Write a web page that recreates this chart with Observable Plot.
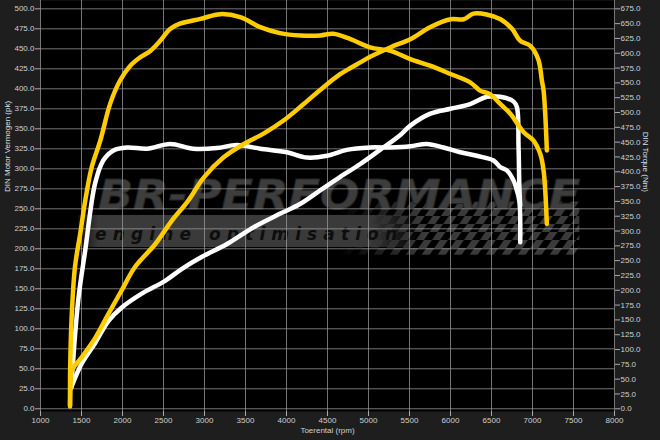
<!DOCTYPE html>
<html><head><meta charset="utf-8">
<script src="https://cdn.jsdelivr.net/npm/d3@7"></script>
<script src="https://cdn.jsdelivr.net/npm/@observablehq/plot@0.6"></script>
<style>
html,body{margin:0;padding:0;background:#1e1e1e;}
#chart{width:660px;height:440px;}
</style></head><body><div id="chart"></div>
<script>
// ---- tick labels / axes ----
const rpmTicks = d3.range(1000, 8001, 500);
const pkTicks = d3.range(0, 501, 25);
const nmTicks = d3.range(0, 676, 25);
const nmPerPk = 675 / 500; // right axis 675 Nm aligns with left 500 pk

const xTitle = "Toerental (rpm)";
const yLeftTitle = "DIN Motor Vermogen (pk)";
const yRightTitle = "DIN Torque (Nm)";

// ---- tuned power (pk), yellow ----
const tunedPowerRpm = [1360,1370,1380,1500,1670,1830,1990,2150,2400,2600,2800,2990,3230,3480,3720,3960,4210,4450,4650,4780,4900,5020,5270,5510,5750,6000,6160,6280,6440,6610,6750,6850,6970,7070,7115,7135,7155,7175];
const tunedPowerPk  = [4,38,48,64,89,119,148,177,206,235,260,289,314,331,344,360,381,402,418,426,433,440,452,462,477,487,487,494,493,487,475,460,454,437,410,398,369,323];

// ---- tuned torque (Nm), yellow ----
const tunedTorqueRpm = [1360,1362,1380,1420,1485,1545,1625,1730,1850,1970,2095,2215,2340,2460,2580,2700,2950,3190,3435,3680,3920,4170,4410,4570,4780,5020,5270,5510,5750,6000,6240,6360,6480,6610,6730,6890,7010,7095,7135,7155,7175];
const tunedTorqueNm  = [4,70,155,239,296,351,408,453,515,554,579,593,604,621,641,650,658,666,661,644,634,630,630,633,624,610,604,590,579,565,551,537,531,514,498,467,453,430,402,369,312];

// ---- stock power (pk), white ----
const stockPowerRpm = [1380,1505,1665,1830,1995,2235,2520,2725,2970,3275,3600,3925,4165,4410,4655,4900,5145,5385,5510,5755,6000,6240,6445,6605,6770,6810,6830,6840,6850];
const stockPowerPk  = [28,57,82,110,127,144,160,175,190,206,227,244,256,273,290,306,324,342,354,369,375,381,390,390,384,377,327,277,254];

// ---- stock torque (Nm), white ----
const stockTorqueRpm = [1375,1460,1545,1665,1765,1890,2055,2300,2580,2865,3150,3395,3680,4005,4250,4495,4735,5020,5265,5510,5710,5915,6120,6320,6525,6605,6690,6770,6810,6840,6850];
const stockTorqueNm  = [35,183,267,380,419,436,441,439,447,439,440,445,439,433,424,427,437,441,441,443,447,441,433,427,419,408,402,385,368,351,281];

const yellow = "#ffcc00";
const white = "#ffffff";

function series(name, rpm, vals, toLeft) {
  return rpm.map((r, i) => ({series: name, rpm: r, v: toLeft(vals[i])}));
}
const idPk = v => v;
const nmToPk = v => v / nmPerPk;

const lineData = [
  ...series("stockTorque", stockTorqueRpm, stockTorqueNm, nmToPk),
  ...series("stockPower", stockPowerRpm, stockPowerPk, idPk),
  ...series("tunedTorque", tunedTorqueRpm, tunedTorqueNm, nmToPk),
  ...series("tunedPower", tunedPowerRpm, tunedPowerPk, idPk)
];
const colorOf = {stockTorque: white, stockPower: white, tunedTorque: yellow, tunedPower: yellow};

// decorative watermark (logo) behind the curves
function watermark(index, scales, values, dims) {
  const L = dims.marginLeft, T = dims.marginTop;
  const W = dims.width - dims.marginLeft - dims.marginRight;
  const H = dims.height - dims.marginTop - dims.marginBottom;
  const px = f => L + f * W, py = f => T + f * H;
  const g = d3.create("svg:g").attr("text-anchor", "start");
  const defs = g.append("defs");
  const pat = defs.append("pattern").attr("id", "chk").attr("patternUnits", "userSpaceOnUse")
    .attr("width", 16).attr("height", 16).attr("patternTransform", "skewX(-35)");
  pat.append("rect").attr("width", 8).attr("height", 8).attr("fill", "#3a3a3a");
  pat.append("rect").attr("x", 8).attr("y", 8).attr("width", 8).attr("height", 8).attr("fill", "#3a3a3a");
  const fade = defs.append("linearGradient").attr("id", "fadeL");
  fade.append("stop").attr("offset", "0").attr("stop-color", "#fff").attr("stop-opacity", 0);
  fade.append("stop").attr("offset", "0.35").attr("stop-color", "#fff").attr("stop-opacity", 1);
  fade.append("stop").attr("offset", "1").attr("stop-color", "#fff").attr("stop-opacity", 1);
  const mask = defs.append("mask").attr("id", "chkMask");
  mask.append("rect").attr("x", px(0.52)).attr("y", py(0.49)).attr("width", px(0.94) - px(0.52)).attr("height", py(0.62) - py(0.49)).attr("fill", "url(#fadeL)");
  const band = defs.append("linearGradient").attr("id", "bandG");
  band.append("stop").attr("offset", "0").attr("stop-color", "#3a3a3a").attr("stop-opacity", 0.2);
  band.append("stop").attr("offset", "0.06").attr("stop-color", "#3a3a3a").attr("stop-opacity", 1);
  band.append("stop").attr("offset", "0.85").attr("stop-color", "#3a3a3a").attr("stop-opacity", 1);
  band.append("stop").attr("offset", "1").attr("stop-color", "#3a3a3a").attr("stop-opacity", 0);
  g.append("rect").attr("x", px(0.52)).attr("y", py(0.49)).attr("width", px(0.94) - px(0.52)).attr("height", py(0.62) - py(0.49))
    .attr("fill", "url(#chk)").attr("mask", "url(#chkMask)");
  g.append("rect").attr("x", px(0.066)).attr("y", py(0.523)).attr("width", px(0.662) - px(0.066)).attr("height", py(0.601) - py(0.523))
    .attr("fill", "url(#bandG)");
  g.append("text").attr("x", px(0.101)).attr("y", py(0.508)).attr("text-anchor", "start")
    .attr("textLength", px(0.941) - px(0.101)).attr("lengthAdjust", "spacingAndGlyphs")
    .attr("font-size", 40).attr("font-weight", 900).attr("font-style", "italic")
    .attr("font-family", "DejaVu Sans, sans-serif")
    .attr("fill", "#3d3d3d").attr("stroke", "#262626").attr("stroke-width", 1)
    .text("BR-PERFORMANCE");
  g.append("text").attr("x", px(0.096)).attr("y", py(0.585)).attr("text-anchor", "start")
    .attr("textLength", px(0.622) - px(0.096)).attr("lengthAdjust", "spacing")
    .attr("font-size", 17).attr("font-weight", 700).attr("font-style", "italic")
    .attr("font-family", "DejaVu Sans, sans-serif").attr("fill", "#0e0e0e")
    .text("engine optimisation");
  return g.node();
}

const txt = "#d0d0d0";
const chart = Plot.plot({
  width: 660, height: 440,
  marginLeft: 40, marginRight: 46, marginTop: 0, marginBottom: 29,
  style: {background: "#1e1e1e", color: txt, fontFamily: "'Liberation Sans', Arial, sans-serif", fontSize: "8px"},
  x: {domain: [1000, 8000], label: null},
  y: {domain: [-3.4, 510.4], label: null},
  marks: [
    Plot.frame({fill: "black", stroke: null}),
    watermark,
    Plot.gridX(rpmTicks, {stroke: "#9a9a9a", strokeOpacity: 0.75}),
    Plot.gridY(pkTicks, {stroke: "#9a9a9a", strokeOpacity: 0.75}),
    Plot.axisX(rpmTicks, {tickSize: 5, tickPadding: 1, tickFormat: d => String(d), label: null, stroke: "#aaaaaa", fill: txt}),
    Plot.axisY(pkTicks, {anchor: "left", tickSize: 5, tickPadding: 1, tickFormat: d => d.toFixed(1), label: null, stroke: "#aaaaaa", fill: txt}),
    Plot.axisY(nmTicks.map(v => v / nmPerPk), {anchor: "right", tickSize: 5, tickPadding: 1,
      tickFormat: d => (Math.round(d * nmPerPk * 10) / 10).toFixed(1), label: null, stroke: "#aaaaaa", fill: txt}),
    Plot.line(lineData, {x: "rpm", y: "v", z: "series", stroke: d => colorOf[d.series],
      strokeWidth: 4.5, curve: "catmull-rom", strokeLinejoin: "round", strokeLinecap: "round"}),
    Plot.text([xTitle], {text: d => d, frameAnchor: "bottom", dy: 21, fill: txt}),
    Plot.text([yLeftTitle], {text: d => d, frameAnchor: "left", dx: -33, dy: -14, rotate: -90, fill: "#d6e0ec"}),
    Plot.text([yRightTitle], {text: d => d, frameAnchor: "right", dx: 31, dy: -14, rotate: 90, fill: "#d6e0ec"})
  ]
});
document.getElementById("chart").appendChild(chart);
</script></body></html>
